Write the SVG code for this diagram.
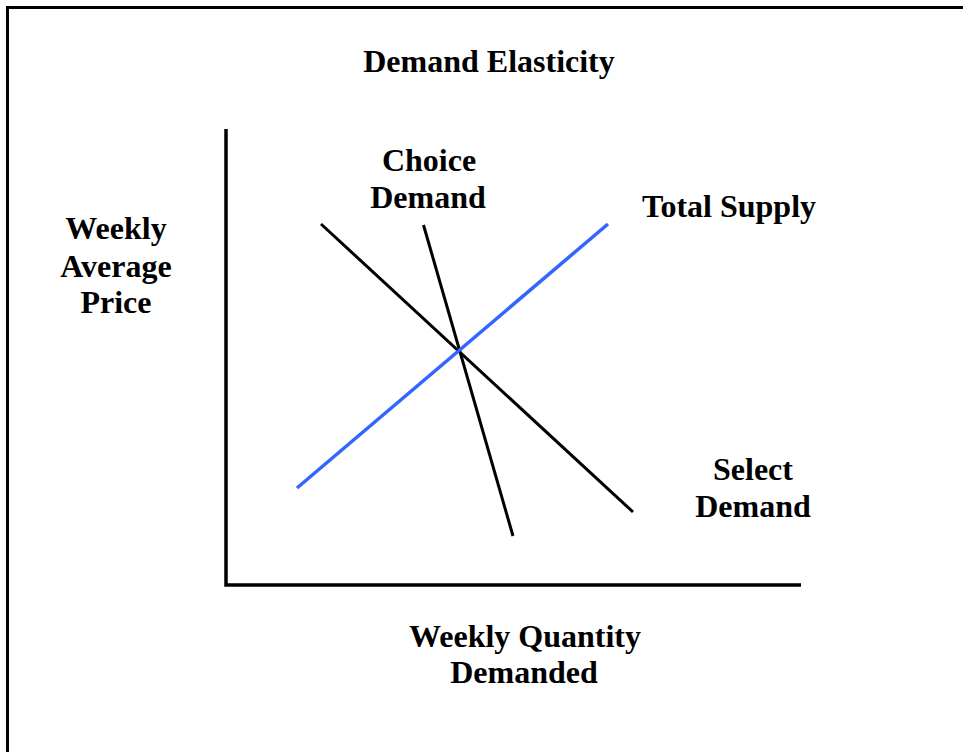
<svg xmlns="http://www.w3.org/2000/svg" width="963" height="752" viewBox="0 0 963 752">
  <style>
    .lbl { font-family: "Liberation Serif", "Times New Roman", serif; font-weight: bold; font-size: 32px; fill: #000; text-anchor: middle; }
    .axis { stroke: #000; stroke-width: 3.5; fill: none; }
    .demand { stroke: #000; stroke-width: 3; fill: none; }
    .supply { stroke: #3366ff; stroke-width: 3.5; fill: none; }
  </style>
  <rect x="0" y="0" width="963" height="752" fill="#fff"/>
  <!-- outer frame -->
  <rect x="7.5" y="7.5" width="1000" height="800" fill="none" stroke="#000" stroke-width="3"/>

  <text class="lbl" x="489" y="72">Demand Elasticity</text>

  <g id="axes">
    <polyline class="axis" points="226,129 226,585 801,585"/>
  </g>

  <g id="connectors">
    <line id="select-demand-line" class="demand" x1="321" y1="224" x2="633" y2="512"/>
    <line id="choice-demand-line" class="demand" x1="423.5" y1="225" x2="513" y2="536"/>
    <line id="total-supply-line" class="supply" x1="297" y1="488" x2="608" y2="224"/>
  </g>

  <g id="y-axis-label">
    <text class="lbl" x="116" y="239">Weekly</text>
    <text class="lbl" x="116" y="277">Average</text>
    <text class="lbl" x="116" y="313">Price</text>
  </g>
  <g id="x-axis-label">
    <text class="lbl" x="525" y="647">Weekly Quantity</text>
    <text class="lbl" x="524" y="683">Demanded</text>
  </g>
  <g id="choice-demand">
    <text class="lbl" x="429" y="171">Choice</text>
    <text class="lbl" x="428" y="208">Demand</text>
  </g>
  <g id="total-supply">
    <text class="lbl" x="729" y="217">Total Supply</text>
  </g>
  <g id="select-demand">
    <text class="lbl" x="753" y="480">Select</text>
    <text class="lbl" x="753" y="517">Demand</text>
  </g>
</svg>
